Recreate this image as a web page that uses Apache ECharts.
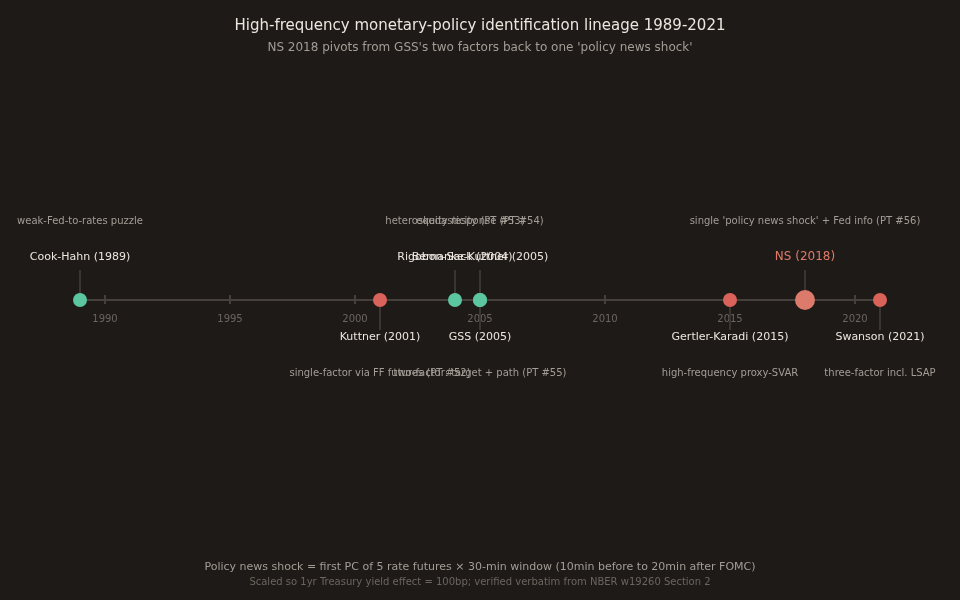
<!DOCTYPE html>
<html>
<head>
<meta charset="utf-8">
<script src="https://cdn.jsdelivr.net/npm/echarts@6/dist/echarts.min.js"></script>
<style>
  html, body { margin: 0; padding: 0; background: #1e1a17; }
  #main { width: 960px; height: 600px; }
</style>
</head>
<body>
<div id="main"></div>
<script>
var myChart = echarts.init(document.getElementById('main'));

// papers on the timeline, in year order
var years = [1989, 2001, 2004, 2005, 2005, 2015, 2018, 2021];
var names = ['Cook-Hahn (1989)', 'Kuttner (2001)', 'Rigobon-Sack (2004)', 'GSS (2005)',
             'Bernanke-Kuttner (2005)', 'Gertler-Karadi (2015)', 'NS (2018)', 'Swanson (2021)'];
var notes = ['weak-Fed-to-rates puzzle', 'single-factor via FF futures (PT #52)',
             'heteroskedasticity (PT #53)', 'two-factor: target + path (PT #55)',
             'equity response (PT #54)', 'high-frequency proxy-SVAR',
             "single 'policy news shock' + Fed info (PT #56)", 'three-factor incl. LSAP'];
// 1 = label above the line, -1 = below
var sides = [1, -1, 1, -1, 1, -1, 1, -1];
var kinds = ['other', 'futures', 'other', 'other', 'other', 'futures', 'focus', 'futures'];

var kindColor = { other: '#5cc6a0', futures: '#d9625a', focus: '#dc7a6c' };

var dots = years.map(function (y, i) {
    return {
        value: [y, 0],
        symbolSize: kinds[i] === 'focus' ? 20 : 14,
        itemStyle: { color: kindColor[kinds[i]], opacity: 1 }
    };
});

var tickColor = '#45403c';

option = {
    backgroundColor: '#1e1a17',
    textStyle: { fontFamily: 'DejaVu Sans' },
    title: [
        {
            text: 'High-frequency monetary-policy identification lineage 1989-2021',
            subtext: "NS 2018 pivots from GSS's two factors back to one 'policy news shock'",
            left: 'center',
            top: 14,
            itemGap: 8,
            textStyle: { color: '#ece6df', fontSize: 15, fontWeight: 'normal', fontFamily: 'DejaVu Sans' },
            subtextStyle: { color: '#a39d96', fontSize: 12, fontFamily: 'DejaVu Sans' }
        },
        {
            text: 'Policy news shock = first PC of 5 rate futures \u00d7 30-min window (10min before to 20min after FOMC)',
            subtext: 'Scaled so 1yr Treasury yield effect = 100bp; verified verbatim from NBER w19260 Section 2',
            left: 'center',
            top: 557,
            itemGap: 4,
            textStyle: { color: '#a39d96', fontSize: 11, fontWeight: 'normal', fontFamily: 'DejaVu Sans' },
            subtextStyle: { color: '#6b655f', fontSize: 10, fontFamily: 'DejaVu Sans' }
        }
    ],
    // the grid bottom edge is the timeline (y = 0)
    grid: { left: 80, right: 80, top: 200, height: 100 },
    xAxis: [
        {
            type: 'value',
            min: 1989,
            max: 2021,
            splitNumber: 6,
            splitLine: { show: false },
            axisLine: { onZero: false, lineStyle: { color: tickColor, width: 2 } },
            axisTick: { length: 4, lineStyle: { color: tickColor, width: 2 } },
            axisLabel: {
                color: '#6b6560', fontSize: 10, margin: 14,
                showMinLabel: false, showMaxLabel: false,
                formatter: function (v) { return String(v); }
            }
        },
        {
            // second copy only for the upper half of the tick marks
            type: 'value',
            min: 1989,
            max: 2021,
            splitNumber: 6,
            position: 'bottom',
            splitLine: { show: false },
            axisLine: { show: false, onZero: false },
            axisTick: { inside: true, length: 5, lineStyle: { color: tickColor, width: 2 } },
            axisLabel: { show: false }
        }
    ],
    yAxis: { type: 'value', min: 0, max: 1, show: false },
    series: [
        {
            name: 'stems',
            type: 'custom',
            z: 1,
            clip: false,
            data: years.map(function (y, i) { return [y, sides[i]]; }),
            renderItem: function (params, api) {
                var i = params.dataIndex;
                var side = api.value(1);
                var p0 = api.coord([api.value(0), 0]);
                var p1 = api.coord([api.value(0), side * 0.3]);
                var focus = kinds[i] === 'focus';
                return {
                    type: 'group',
                    children: [
                        {
                            type: 'line',
                            shape: { x1: p0[0], y1: p0[1], x2: p1[0], y2: p1[1] },
                            style: { stroke: '#3b3532', lineWidth: 2 }
                        },
                        {
                            type: 'text',
                            x: p0[0],
                            y: side > 0 ? p0[1] - 43 : p0[1] + 37,
                            style: {
                                text: names[i],
                                fill: focus ? '#e07b6a' : '#ece6df',
                                font: (focus ? 12 : 11) + 'px "DejaVu Sans"',
                                align: 'center',
                                verticalAlign: 'middle'
                            }
                        },
                        {
                            type: 'text',
                            x: p0[0],
                            y: side > 0 ? p0[1] - 79 : p0[1] + 73,
                            style: {
                                text: notes[i],
                                fill: '#a39d96',
                                font: '10px "DejaVu Sans"',
                                align: 'center',
                                verticalAlign: 'middle'
                            }
                        }
                    ]
                };
            }
        },
        {
            name: 'papers',
            type: 'scatter',
            z: 3,
            clip: false,
            data: dots
        }
    ]
};
myChart.setOption(option);
</script>
</body>
</html>
